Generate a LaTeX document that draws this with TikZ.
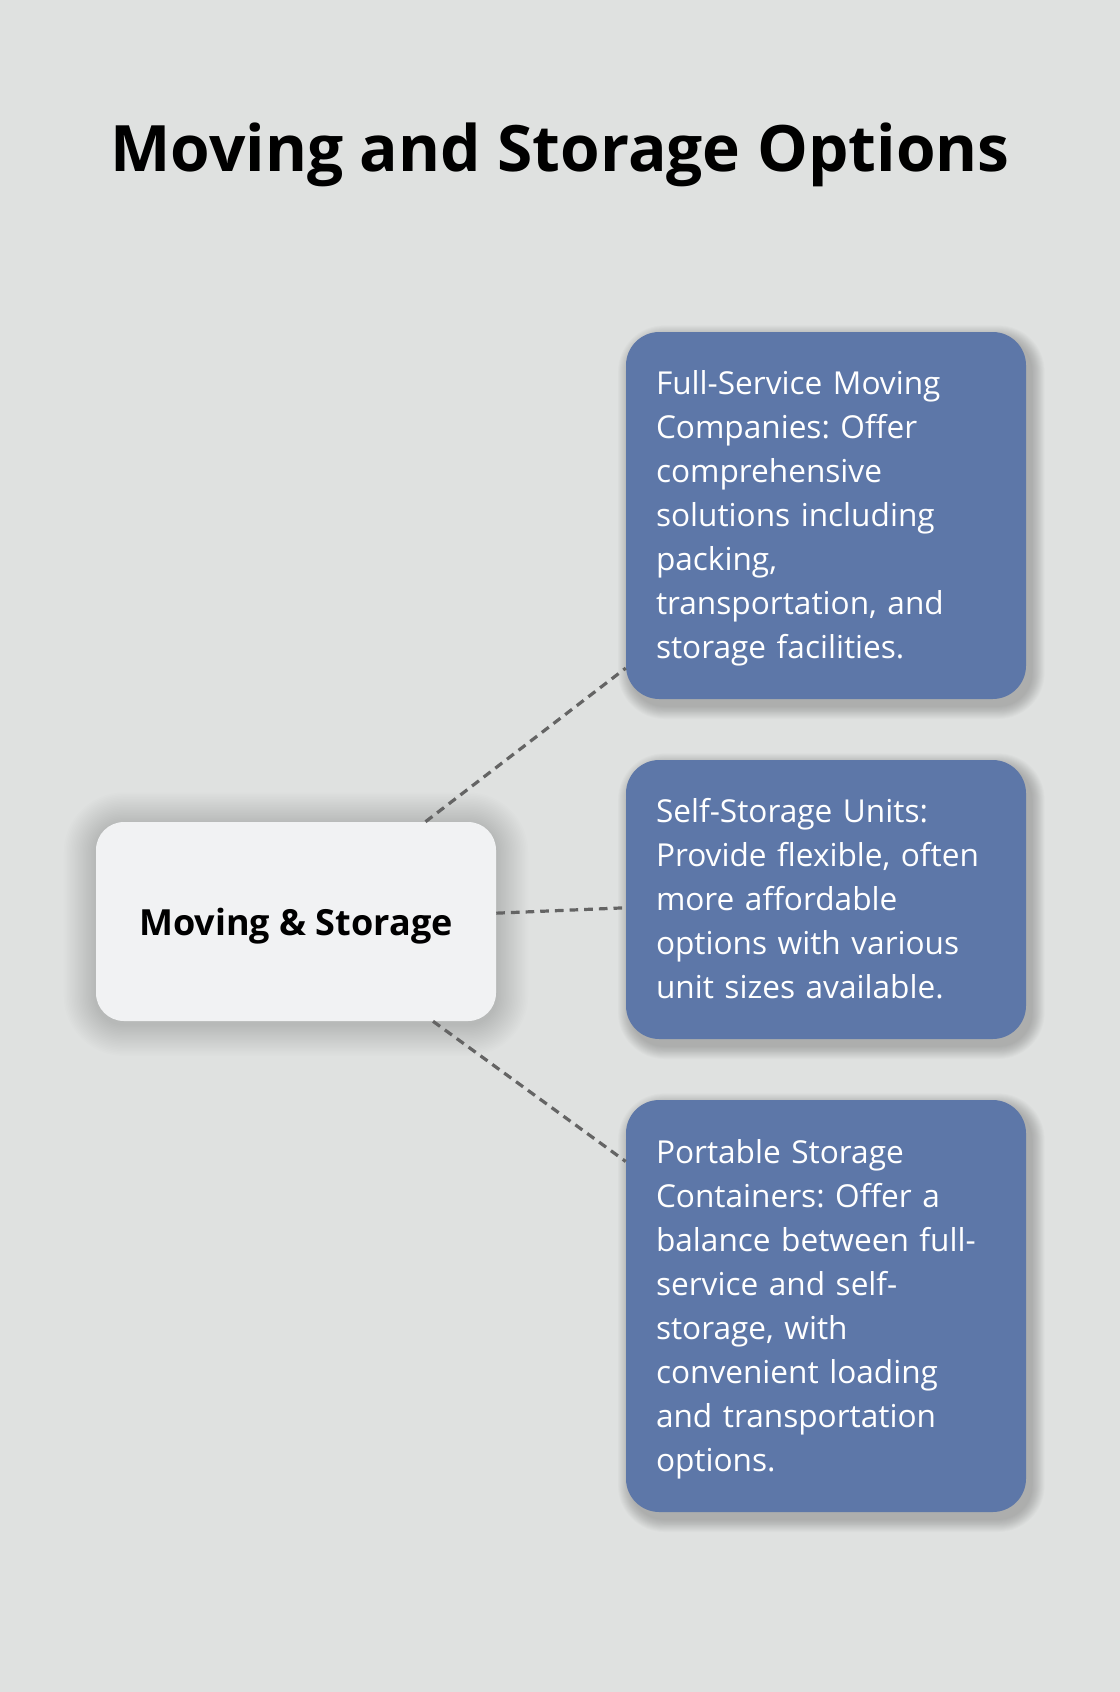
\documentclass[tikz,border=0pt]{standalone}
\usepackage{fontspec}
\setmainfont{Open Sans}
\frenchspacing
\usepackage{tikz}
\definecolor{fundo}{HTML}{DFE1E0}
\definecolor{azul}{HTML}{5D77A8}
\definecolor{claro}{HTML}{F1F2F3}
\definecolor{linha}{HTML}{646464}
\pgfdeclarelayer{sombra}
\pgfsetlayers{sombra,main}
\newcommand{\escora}{\rule[-7.9pt]{0pt}{33pt}}

\begin{document}
\begin{tikzpicture}[x=0.75pt,y=-0.75pt]
\tikzstyle{titulo}=[anchor=base, font=\fontsize{48}{58}\selectfont\bfseries]
\tikzstyle{centro}=[rectangle, rounded corners=21pt, fill=claro, minimum width=300pt, minimum height=149.25pt, text height=30pt, text depth=9.75pt, font=\fontsize{27}{32}\selectfont\bfseries]
\tikzstyle{opcao}=[rectangle, rounded corners=25pt, fill=azul, text=white, text width=255pt, inner xsep=22.5pt, align=left, font=\fontsize{23.7}{33}\selectfont]
\tikzstyle{ligacao}=[draw=linha, line width=2.4pt, dash pattern=on 6.5pt off 4.5pt]
 \node[titulo] (titulo) at (560,171) {Moving and Storage Options};
 \node[centro] (centro) at (296,921.5) {Moving \& Storage};
 \node[opcao, minimum height=275.25pt] (servico) at (826,515.5) {\escora Full-Service Moving\\
   Companies: Offer\\ comprehensive\\ solutions including\\ packing,\\
   transportation, and\\ storage facilities.\escora};
 \node[opcao, minimum height=209.25pt] (unidades) at (826,899.5) {\escora Self-Storage Units:\\
   Provide flexible, often\\ more affordable\\ options with various\\ unit sizes available.\escora};
 \node[opcao, minimum height=309pt] (portateis) at (826,1306) {\escora Portable Storage\\
   Containers: Offer a\\ balance between full-\\ service and self-\\ storage, with\\
   convenient loading\\ and transportation\\ options.\escora};
 \draw[ligacao] (centro) -- (servico);
 \draw[ligacao] (centro) -- (unidades);
 \draw[ligacao] (centro) -- (portateis);
 \begin{pgfonlayer}{sombra}
  \fill[fundo] (0,0) rectangle (1120,1692);
  \foreach \r in {1,...,20}
   \fill[black, opacity=0.007, rounded corners=21pt+\r*1.2pt]
     ([shift={(-\r*1.2pt,-2pt+\r*1.2pt)}]centro.north west) rectangle ([shift={(\r*1.2pt,-2pt-\r*1.2pt)}]centro.south east);
  \foreach \caixa in {servico,unidades,portateis}
   \foreach \r in {1,...,14}
    \fill[black, opacity=0.017, rounded corners=25pt+\r*0.7pt]
      ([shift={(4pt-\r*0.7pt,-5pt+\r*0.7pt)}]\caixa.north west) rectangle ([shift={(4pt+\r*0.7pt,-5pt-\r*0.7pt)}]\caixa.south east);
 \end{pgfonlayer}
\end{tikzpicture}
\end{document}
